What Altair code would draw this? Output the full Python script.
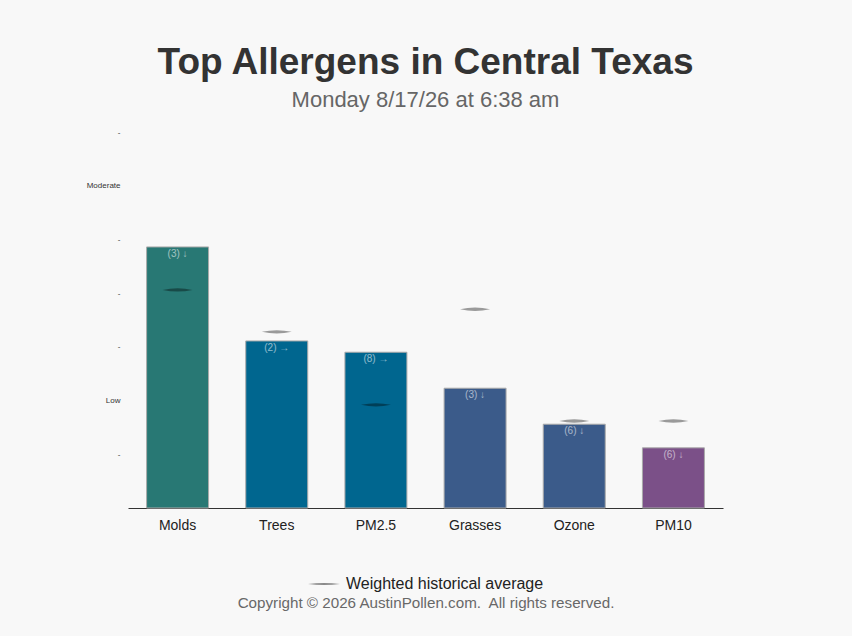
import altair as alt
import pandas as pd
import jinja2

allergens = ["Molds", "Trees", "PM2.5", "Grasses", "Ozone", "PM10"]
levels = [4.86, 3.11, 2.90, 2.23, 1.56, 1.12]
averages = [4.06, 3.28, 1.92, 3.70, 1.62, 1.62]
bar_labels = ["(3) \u2193", "(2) \u2192", "(8) \u2192", "(3) \u2193", "(6) \u2193", "(6) \u2193"]
bar_colors = ["#287874", "#00668f", "#00668f", "#3b5b8a", "#3b5b8a", "#7b5088"]
y_ticks = [0, 1, 2, 3, 4, 5, 6, 7]

FONT = "Liberation Sans"
LENS = "M-1,0Q0,-0.22,1,0Q0,0.22,-1,0Z"
LEGEND_LENS = "M-1,0Q0,-0.13,1,0Q0,0.13,-1,0Z"

df = pd.DataFrame({
    "allergen": allergens,
    "level": levels,
    "avg": averages,
    "label": bar_labels,
    "color": bar_colors,
    "series": ["Weighted historical average"] * len(allergens),
})

x_enc = alt.X(
    "allergen:N",
    sort=allergens,
    scale=alt.Scale(paddingInner=0.375, paddingOuter=0.1875),
    axis=alt.Axis(
        title="Copyright \u00a9 2026 AustinPollen.com.\u00a0 All rights reserved.",
        titleFontSize=15.2, titleColor="#686868", titleFontWeight="normal", titleFont=FONT,
        titlePadding=63,
        labelAngle=0, labelFontSize=14, labelColor="#222222", labelFont=FONT,
        labelPadding=10, ticks=False, domainColor="#333333", domainWidth=1,
        grid=False,
    ),
)

y_scale = alt.Scale(domain=[0, 7], nice=False)

bars = alt.Chart(df).mark_bar(stroke="#aaaaaa", strokeWidth=1).encode(
    x=x_enc,
    y=alt.Y(
        "level:Q",
        scale=y_scale,
        axis=alt.Axis(
            title=None, values=y_ticks, domain=False, ticks=False, grid=False,
            labelExpr="datum.value == 6 ? 'Moderate' : datum.value == 2 ? 'Low' : datum.value == 0 ? '' : '-'",
            labelFontSize=8, labelColor="#333333", labelFont=FONT, labelPadding=8,
        ),
    ),
    fill=alt.Fill("color:N", scale=None, legend=None),
)

texts = alt.Chart(df).mark_text(
    baseline="middle", dy=7, fontSize=10, font=FONT, color="#ffffff", opacity=0.55
).encode(
    x=alt.X("allergen:N", sort=allergens),
    y=alt.Y("level:Q", scale=y_scale),
    text="label:N",
)

markers = alt.Chart(df).mark_point(
    shape=LENS, size=900, filled=True, opacity=0.38, strokeWidth=0
).encode(
    x=alt.X("allergen:N", sort=allergens),
    y=alt.Y("avg:Q", scale=y_scale),
    color=alt.Color(
        "series:N",
        scale=alt.Scale(range=["#000000"]),
        legend=alt.Legend(
            title=None, orient="none", legendX=180, legendY=436,
            symbolType=LEGEND_LENS, symbolSize=1024, symbolOpacity=0.45, symbolStrokeWidth=0,
            labelFontSize=16, labelColor="#222222", labelFont=FONT, labelOffset=6,
            labelLimit=0,
        ),
    ),
)

chart = alt.layer(bars, markers, texts).properties(
    width=595,
    height=376,
    title=alt.Title(
        "Top Allergens in Central Texas",
        subtitle="Monday 8/17/26 at 6:38 am",
        font=FONT, fontSize=37, fontWeight="bold", color="#333333",
        subtitleFont=FONT, subtitleFontSize=22, subtitleColor="#666666",
        anchor="middle", offset=16, subtitlePadding=8,
    ),
    autosize=alt.AutoSizeParams(type="none"),
    padding={"left": 120, "top": 124, "right": 121, "bottom": 112},
).configure(
    background="#f8f8f8",
).configure_view(stroke=None)

PAGE = jinja2.Template("""<!DOCTYPE html>
<html>
<head>
  <meta charset="utf-8">
  <style>html, body { background: #f8f8f8; }</style>
  <script type="text/javascript" src="{{ base_url }}/vega@{{ vega_version }}"></script>
  <script type="text/javascript" src="{{ base_url }}/vega-lite@{{ vegalite_version }}"></script>
  <script type="text/javascript" src="{{ base_url }}/vega-embed@{{ vegaembed_version }}"></script>
</head>
<body>
  <div id="{{ output_div }}"></div>
  <script type="text/javascript">
    var spec = {{ spec }};
    var embedOpt = {{ embed_options }};
    vegaEmbed("#{{ output_div }}", spec, embedOpt);
  </script>
</body>
</html>
""")

chart.save("out.html", embed_options={"renderer": "svg", "actions": False}, template=PAGE)
